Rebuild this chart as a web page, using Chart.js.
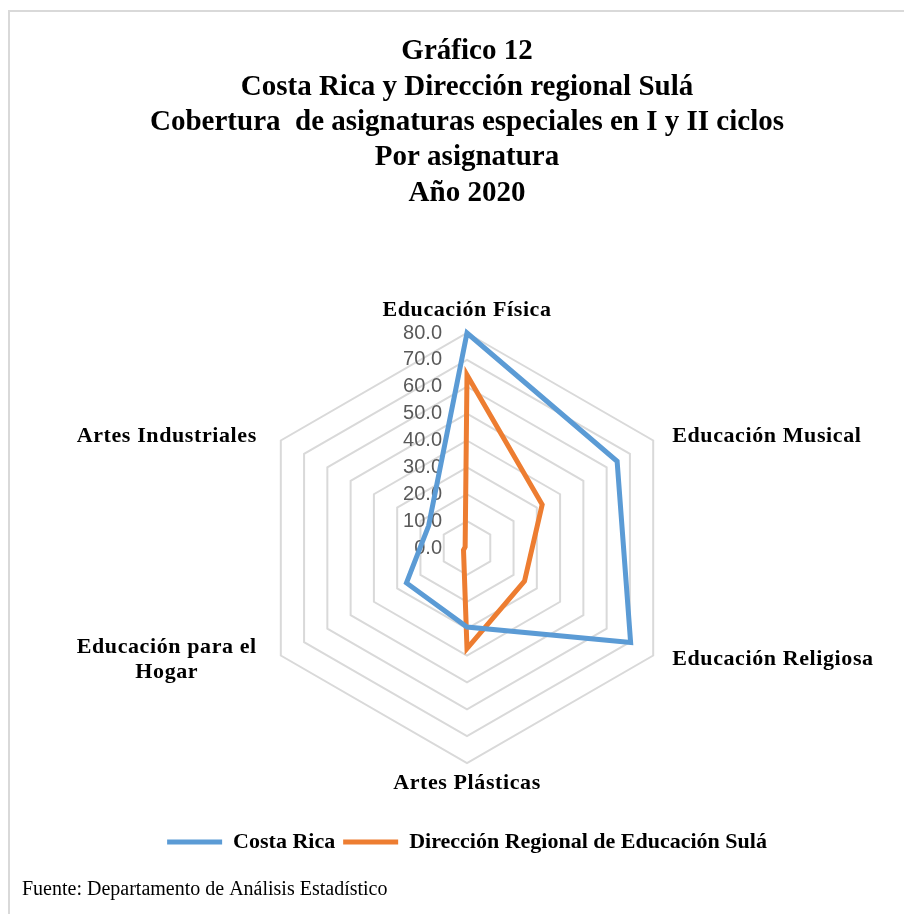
<!DOCTYPE html>
<html>
<head>
<meta charset="utf-8">
<script src="https://cdn.jsdelivr.net/npm/chart.js@4.4.1/dist/chart.umd.min.js"></script>
<style>
  html, body { margin: 0; padding: 0; background: #fff; }
  #wrap { width: 904px; height: 914px; position: relative; }
</style>
</head>
<body>
<div id="wrap"><canvas id="radarChart"></canvas></div>
<script>
// Gráfico 12 - cobertura de asignaturas especiales, radar

const titleLines = [
    'Gráfico 12',
    'Costa Rica y Dirección regional Sulá',
    'Cobertura  de asignaturas especiales en I y II ciclos',
    'Por asignatura',
    'Año 2020'
];

const categories = [
    'Educación Física',
    'Educación Musical',
    'Educación Religiosa',
    'Artes Plásticas',
    ['Educación para el', 'Hogar'],
    'Artes Industriales'
];

const seriesNames = ['Costa Rica', 'Dirección Regional de Educación Sulá'];
const costaRica = [80.0, 64.5, 70.3, 29.4, 26.0, 16.5];
const sula = [64.4, 32.3, 24.7, 37.4, 1.5, 0.8];

const axisMin = 0;
const axisMax = 80;
const axisStep = 10;

const footerText = 'Fuente: Departamento de Análisis Estadístico';

// frame lines + footer
const framePlugin = {
    id: 'frame',
    beforeDraw(chart) {
        const ctx = chart.ctx;
        ctx.save();
        ctx.strokeStyle = '#d9d9d9';
        ctx.lineWidth = 2;
        ctx.beginPath();
        ctx.moveTo(9, chart.height);
        ctx.lineTo(9, 11);
        ctx.lineTo(chart.width, 11);
        ctx.stroke();
        ctx.restore();
    },
    afterDraw(chart) {
        const ctx = chart.ctx;
        ctx.save();
        ctx.font = '20px "Liberation Serif"';
        ctx.fillStyle = '#000';
        ctx.textAlign = 'left';
        ctx.textBaseline = 'middle';
        ctx.fillText(footerText, 22, 890);
        ctx.restore();
    }
};

// tick values beside the vertical axis, and the category names
const radarTextPlugin = {
    id: 'radarText',
    beforeDatasetsDraw(chart) {
        const scale = chart.scales.r;
        const ctx = chart.ctx;
        const R = scale.drawingArea;
        ctx.save();

        ctx.font = '20px "Liberation Sans"';
        ctx.fillStyle = '#595959';
        ctx.textAlign = 'right';
        ctx.textBaseline = 'middle';
        scale.ticks.forEach(t => {
            const d = scale.getDistanceFromCenterForValue(t.value);
            ctx.fillText(t.value.toFixed(1), scale.xCenter - 25, scale.yCenter - d);
        });

        ctx.font = 'bold 22px "Liberation Serif"';
        ctx.letterSpacing = '0.6px';
        ctx.fillStyle = '#000';
        ctx.textBaseline = 'middle';
        chart.data.labels.forEach((label, i) => {
            const lines = Array.isArray(label) ? label : [label];
            const deg = scale.getIndexAngle(i) * 180 / Math.PI;
            let x, y;
            if (Math.abs(deg) < 1 || Math.abs(deg - 360) < 1) {
                const p = scale.getPointPosition(i, R + 23);
                x = p.x; y = p.y;
                ctx.textAlign = 'center';
            } else if (Math.abs(deg - 180) < 1) {
                const p = scale.getPointPosition(i, R + 20);
                x = p.x; y = p.y;
                ctx.textAlign = 'center';
            } else {
                const v = scale.getPointPosition(i, R);
                const p = scale.getPointPosition(i, R + 8);
                y = p.y;
                if (deg < 180) {
                    x = v.x + 19;
                    ctx.textAlign = 'left';
                } else {
                    x = v.x - 24;
                    ctx.textAlign = 'right';
                }
            }
            const lh = 25;
            if (lines.length > 1) {
                // multi-line label: lines centred on the first one
                const w0 = ctx.measureText(lines[0]).width;
                const cx = ctx.textAlign === 'right' ? x - w0 / 2 : (ctx.textAlign === 'left' ? x + w0 / 2 : x);
                ctx.textAlign = 'center';
                lines.forEach((ln, k) => {
                    ctx.fillText(ln, cx, y + (k - (lines.length - 1) / 2) * lh);
                });
            } else {
                ctx.fillText(lines[0], x, y);
            }
        });
        ctx.restore();
    }
};

new Chart(document.getElementById('radarChart'), {
    type: 'radar',
    data: {
        labels: categories,
        datasets: [{
            label: seriesNames[0],
            data: costaRica,
            borderColor: '#5b9bd5',
            backgroundColor: '#5b9bd5',
            borderWidth: 5,
            pointRadius: 0,
            pointHoverRadius: 0,
            fill: false
        }, {
            label: seriesNames[1],
            data: sula,
            borderColor: '#ed7d31',
            backgroundColor: '#ed7d31',
            borderWidth: 5,
            pointRadius: 0,
            pointHoverRadius: 0,
            fill: false
        }]
    },
    options: {
        responsive: true,
        maintainAspectRatio: false,
        animation: false,
        layout: {
            padding: { top: 0, left: 30, right: 0, bottom: 51 }
        },
        scales: {
            r: {
                min: axisMin,
                max: axisMax,
                ticks: { stepSize: axisStep, display: false },
                grid: { color: '#d9d9d9', lineWidth: 2, circular: false },
                angleLines: { display: false },
                pointLabels: { display: false }
            }
        },
        plugins: {
            title: {
                display: true,
                text: titleLines,
                color: '#000',
                font: { family: 'Liberation Serif', size: 29, weight: 'bold', lineHeight: 1.22 },
                padding: { top: 34, bottom: 123 }
            },
            legend: {
                position: 'bottom',
                title: {
                    display: true,
                    text: ' ',
                    font: { size: 10 },
                    padding: { top: 47, bottom: 0 }
                },
                labels: {
                    usePointStyle: true,
                    pointStyle: 'line',
                    pointStyleWidth: 55,
                    padding: 8,
                    color: '#000',
                    font: { family: 'Liberation Serif', size: 22, weight: 'bold' }
                }
            },
            tooltip: { enabled: false }
        }
    },
    plugins: [framePlugin, radarTextPlugin]
});
</script>
</body>
</html>
